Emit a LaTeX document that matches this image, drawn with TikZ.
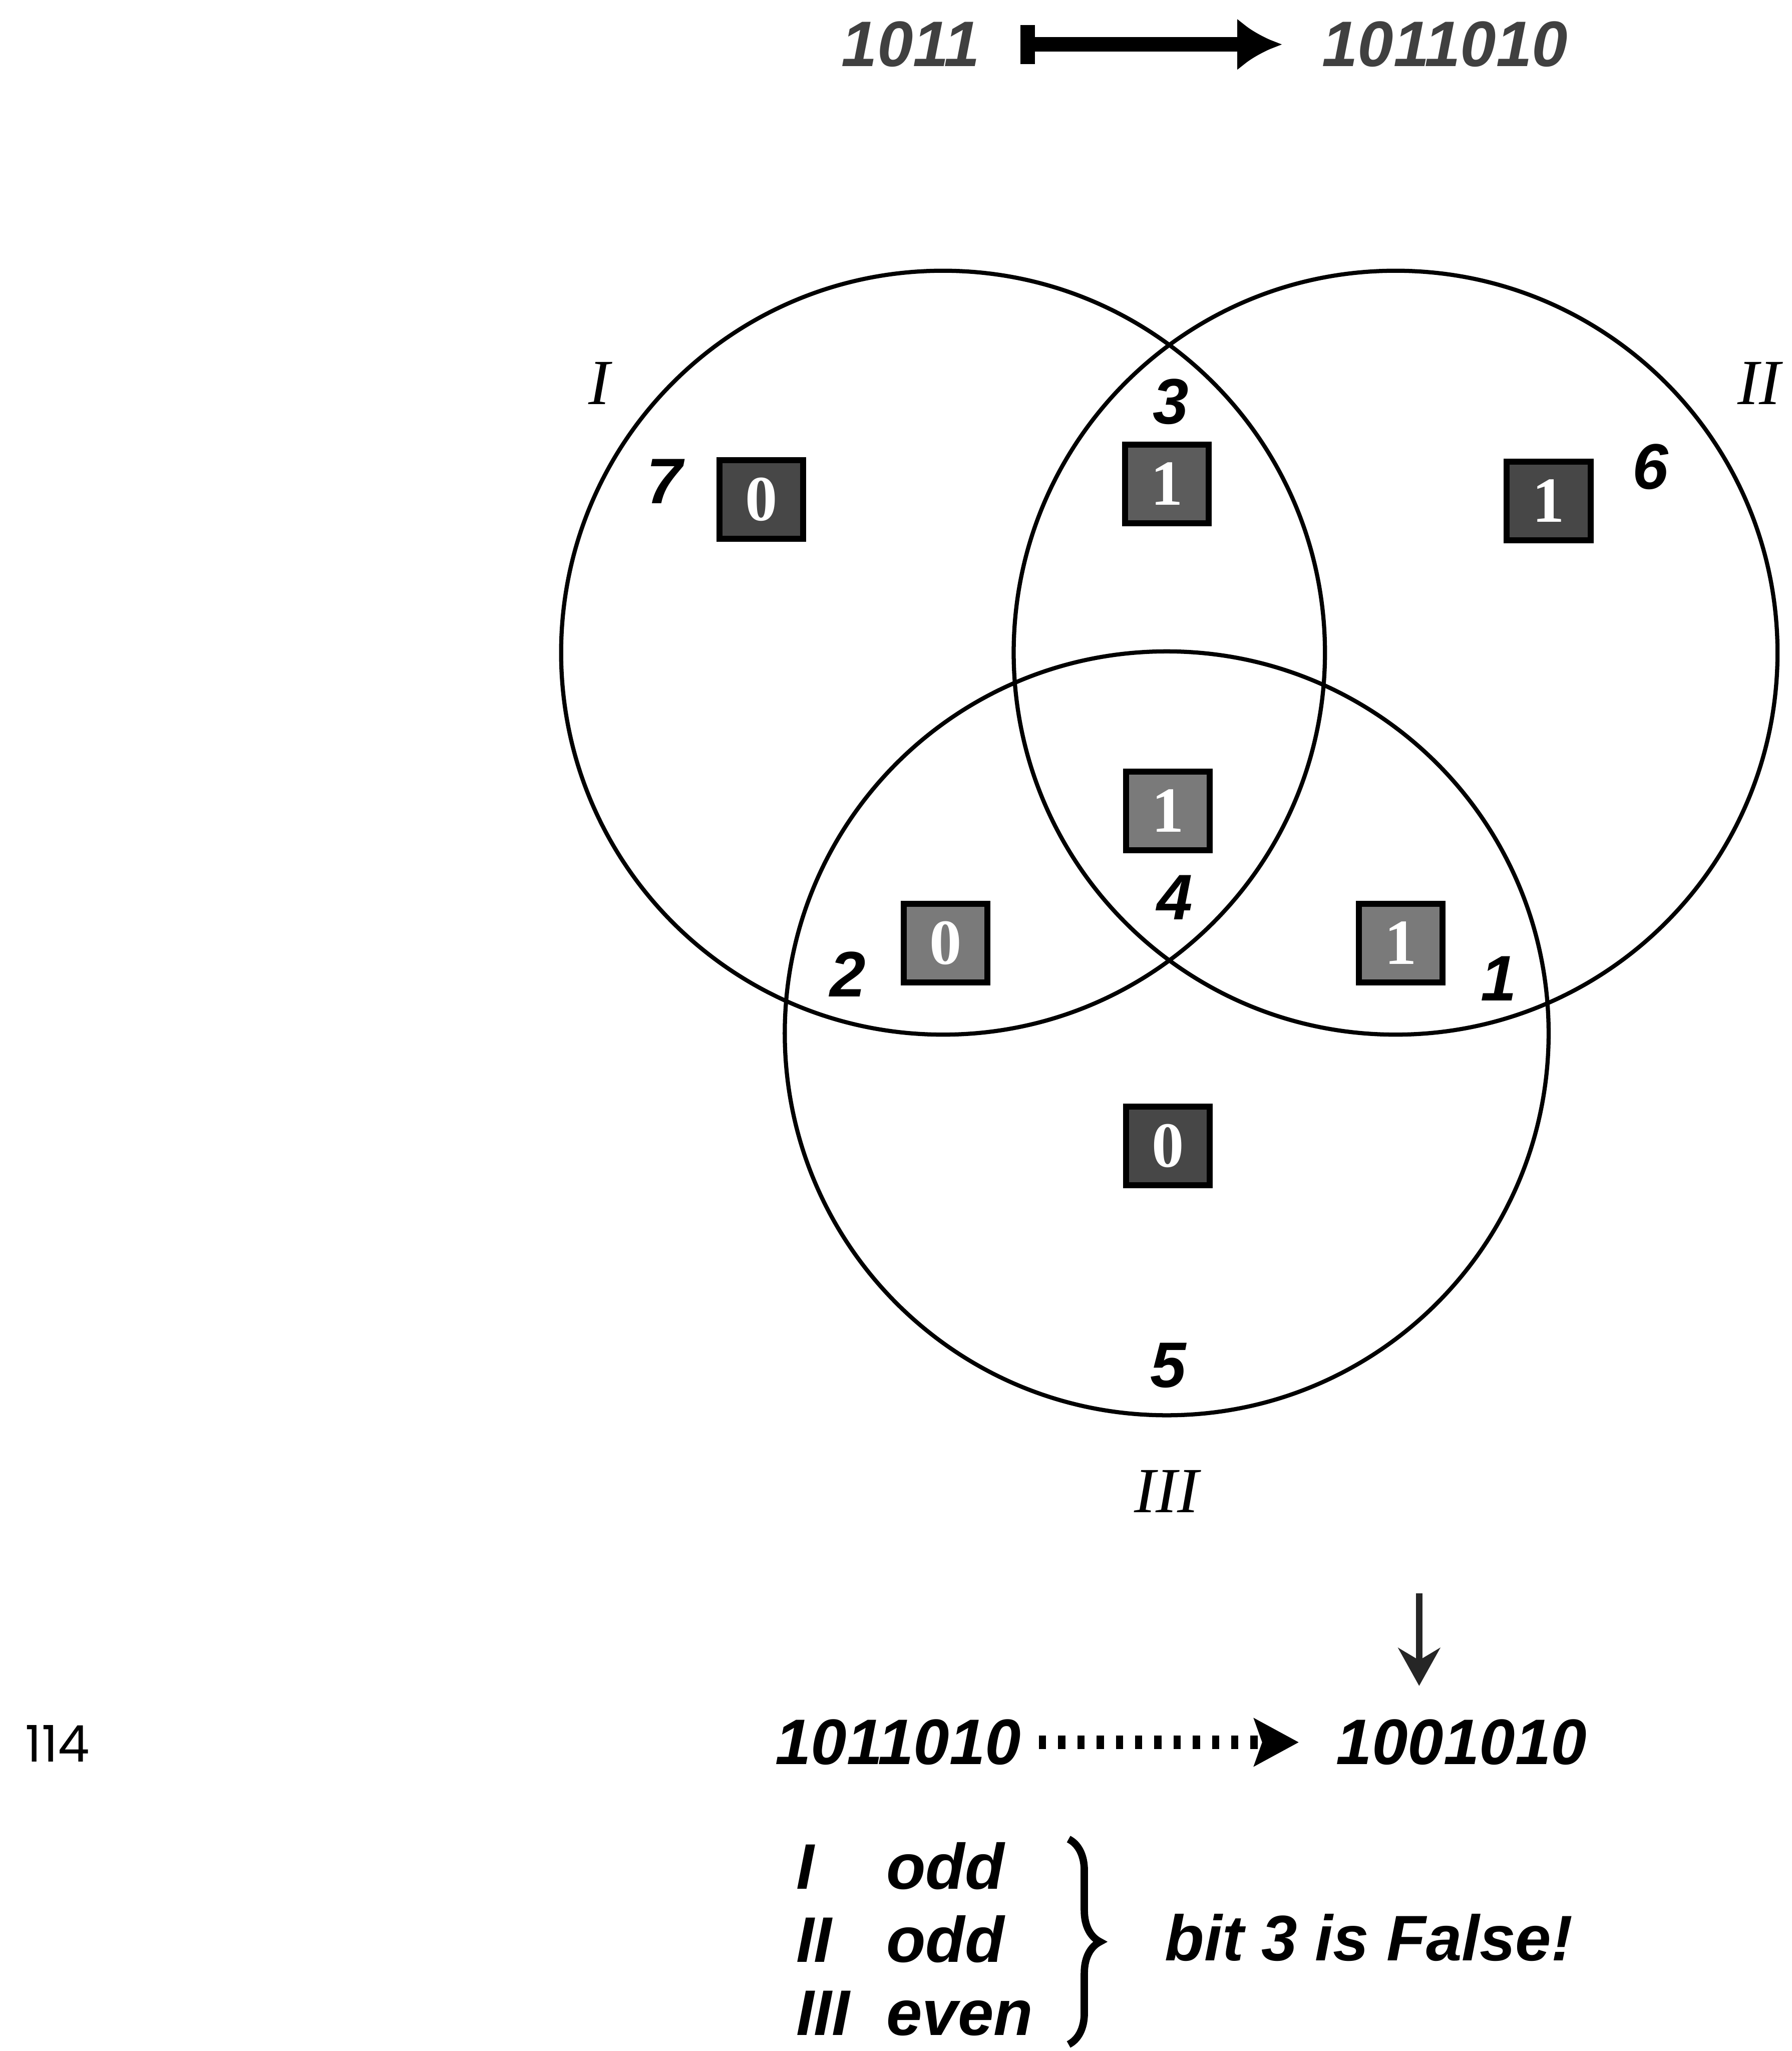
\documentclass[tikz,border=0pt]{standalone}
\usepackage{fontspec}
\setmainfont{Liberation Serif}
\setsansfont{Liberation Sans}
\newfontfamily\folio{Poppins}
\usetikzlibrary{arrows.meta,decorations.pathreplacing}

\begin{document}
\begin{tikzpicture}[
    bitbox/.style={draw=black, line width=1.3pt, minimum width=0.64cm, minimum height=0.60cm,
                   inner sep=0pt, text=white, font=\fontsize{14}{14}\selectfont\bfseries},
    darkbox/.style={bitbox, fill=black!72},
    midbox/.style={bitbox, fill=black!52},
    bitpos/.style={font=\sffamily\bfseries\itshape\fontsize{14}{16}\selectfont},
    setname/.style={font=\itshape\fontsize{14}{16}\selectfont},
    word/.style={font=\sffamily\bfseries\itshape\fontsize{14}{16}\selectfont, inner sep=0pt}
  ]
  \useasboundingbox (0,0) rectangle (13.70,15.68);

  % the three parity circles
  \draw[line width=0.9pt] (7.21,10.69) circle[radius=2.92];
  \draw[line width=0.9pt] (10.67,10.69) circle[radius=2.92];
  \draw[line width=0.9pt] (8.92,7.78) circle[radius=2.92];
  \node[setname] (I) at (4.58,12.75) {I};
  \node[setname] (II) at (13.45,12.75) {II};
  \node[setname] (III) at (8.92,4.28) {III};

  % bit positions
  \node[bitpos] (p7) at (5.08,12.00) {7};
  \node[bitpos] (p3) at (8.95,12.61) {3};
  \node[bitpos] (p6) at (12.62,12.11) {6};
  \node[bitpos] (p4) at (8.98,8.82) {4};
  \node[bitpos] (p2) at (6.48,8.23) {2};
  \node[bitpos] (p1) at (11.46,8.20) {1};
  \node[bitpos] (p5) at (8.93,5.24) {5};

  % bit values
  \node[darkbox] (b7) at (5.82,11.86) {0};
  \node[bitbox, fill=black!64] (b3) at (8.92,11.98) {1};
  \node[darkbox] (b6) at (11.84,11.85) {1};
  \node[midbox] (b4) at (8.93,9.48) {1};
  \node[midbox] (b2) at (7.23,8.47) {0};
  \node[midbox] (b1) at (10.71,8.47) {1};
  \node[darkbox] (b5) at (8.93,6.92) {0};

  % encoding
  \node[word, anchor=east, text=black!75] (data) at (7.50,15.34) {1011};
  \node[word, anchor=west, text=black!75] (code) at (10.10,15.34) {1011010};
  \draw[line width=3.2pt, {Bar[width=0.3cm]}-{Latex[length=0.34cm,width=0.40cm]},
        shorten <=0.3cm, shorten >=0.3cm] (data.east) -- (code.west);

  % error
  \node[word, anchor=west] (sent) at (5.92,2.36) {1011010};
  \node[word, anchor=west] (recv) at (10.21,2.36) {1001010};
  \draw[line width=0.1cm, dash pattern=on 0.055cm off 0.092cm,
        -{Stealth[length=0.34cm,width=0.36cm,inset=0.06cm]},
        shorten <=0.13cm, shorten >=0.28cm] (sent.east) -- (recv.west);
  \coordinate (flip) at (10.85,3.50);
  \draw[line width=1.4pt, black!85, -{Stealth[length=0.29cm,width=0.32cm]},
        shorten >=0.25cm] (flip) -- (flip |- recv.north);

  % parity check
  \node[word, anchor=base west] (c1) at (6.08,1.24) {I};
  \node[word, anchor=base west] (r1) at (6.77,1.24) {odd};
  \node[word, anchor=base west] (c2) at (6.08,0.68) {II};
  \node[word, anchor=base west] (r2) at (6.77,0.68) {odd};
  \node[word, anchor=base west] (c3) at (6.08,0.12) {III};
  \node[word, anchor=base west] (r3) at (6.77,0.12) {even};
  \coordinate (btop) at (8.17,1.62);
  \coordinate (bbot) at (8.17,0.05);
  \draw[line width=1.6pt, decorate, decoration={brace, amplitude=0.24cm}] (btop) -- (bbot);
  \node[word, anchor=base west] (verdict) at (8.90,0.69) {bit 3 is False!};

  \node[font=\folio\fontsize{11}{13}\selectfont] (page) at (0.44,2.35) {114};
\end{tikzpicture}
\end{document}
